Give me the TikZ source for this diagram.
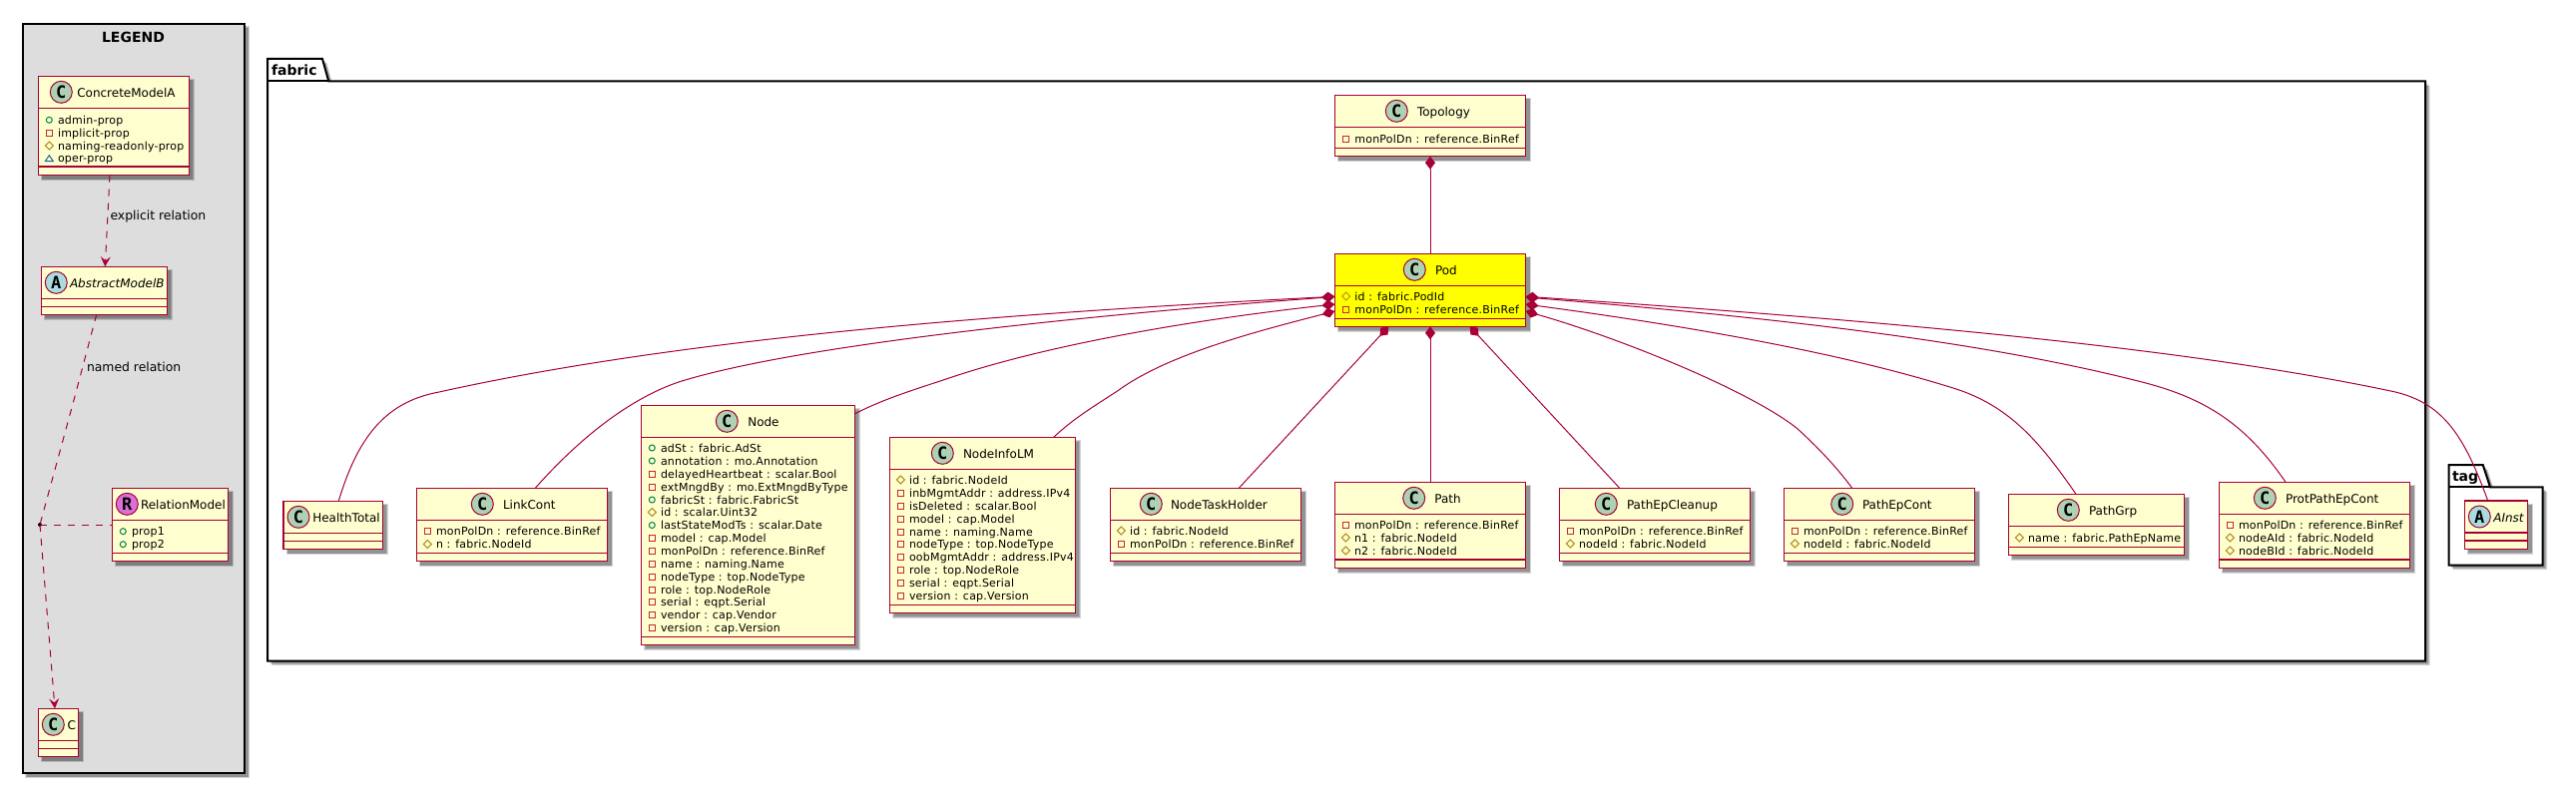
\documentclass[tikz,border=0pt]{standalone}
\usepackage{fontspec}
\setmainfont{DejaVu Sans}
\newfontfamily\spotfont{DejaVu Sans Mono}[BoldFont={DejaVu Sans Mono Bold}]
\usetikzlibrary{arrows.meta,calc}
\definecolor{plum}{HTML}{A80036}
\definecolor{classbg}{HTML}{FEFECE}
\definecolor{legendbg}{HTML}{DDDDDD}
\definecolor{spotC}{HTML}{ADD1B2}
\definecolor{spotA}{HTML}{A9DCDF}
\definecolor{spotR}{HTML}{DA70D6}
\definecolor{icpub}{HTML}{038048}
\definecolor{icpriv}{HTML}{C82930}
\definecolor{icprot}{HTML}{B38D22}
\definecolor{icpack}{HTML}{1963A0}
\definecolor{podbg}{HTML}{FFFF00}
\newcommand\fattr{\fontsize{11}{13}\selectfont\addfontfeature{LetterSpace=2}}
\newcommand\fname{\fontsize{12}{14}\selectfont}
\newcommand\flabel{\fontsize{12.4}{15}\selectfont}
\newcommand\fpack{\fontsize{14}{16}\selectfont\bfseries}
\newcount\tn
\tikzset{
  txt/.style={inner sep=0pt,outer sep=0pt,anchor=base west,text=black},
  classbox/.style={draw=plum,line width=1.5pt,inner sep=0pt,outer sep=0pt,anchor=north west},
  classline/.style={draw=plum,line width=1.5pt},
  spotc/.style={circle,draw=plum,line width=1pt,minimum size=22pt,inner sep=0pt,outer sep=0pt,text=black,font=\spotfont\fontsize{17}{17}\selectfont\bfseries},
  edge/.style={draw=plum,line width=1pt},
  dashedge/.style={draw=plum,line width=1pt,dash pattern=on 7pt off 7pt},
  comp/.style={edge,{Diamond[length=13pt,width=10pt,fill=plum,color=plum]}-},
  dep/.style={dashedge,-{Stealth[length=10pt,width=10pt,inset=4pt,fill=plum,color=plum,sep=0pt]}},
  pack/.style={draw=black,line width=2pt,fill=white,line join=miter},
  shd/.style={fill=black,opacity=.17,draw=none},
}
\newcommand\shadowrect[4]{%
  \path[shd] ({#1+2.5},{#2+2.5}) rectangle ({#3+5.5},{#4+5.5});
  \path[shd] ({#1+3.5},{#2+3.5}) rectangle ({#3+4.5},{#4+4.5});
  \path[shd] ({#1+4},{#2+4}) rectangle ({#3+4},{#4+4});}
% id x1 y1 x2 y2 line1 line2 fill
\newcommand\cls[8]{%
  \shadowrect{#2}{#3}{#4}{#5}
  \pgfmathsetlengthmacro\boxw{(#4-#2)*1pt}\pgfmathsetlengthmacro\boxh{(#5-#3)*1pt}
  \node[classbox,fill=#8,minimum width=\boxw,minimum height=\boxh] (#1) at (#2,#3) {};
  \draw[classline] (#2,#6) -- (#4,#6);
  \draw[classline] (#2,#7) -- (#4,#7);}
% cx cy letter color namex name
\newcommand\spot[6]{%
  \global\advance\tn by 1
  \node[spotc,fill=#4] (s\the\tn) at (#1,#2) {#3};
  \node[txt] (n\the\tn) at (#5,{#2+5.5}) {\fname #6};}
\newcommand\rowtext[3]{%
  \global\advance\tn by 1
  \node[txt] (r\the\tn) at ({#1+8.7},{#2+4}) {\fattr #3};}
\newcommand\pub[3]{\draw[icpub,line width=1pt] (#1,#2) circle (3); \rowtext{#1}{#2}{#3}}
\newcommand\pri[3]{\draw[icpriv,line width=1pt] ({#1-3},{#2-3}) rectangle ({#1+3},{#2+3}); \rowtext{#1}{#2}{#3}}
\newcommand\pro[3]{\draw[icprot,line width=1pt] ({#1-4},#2) -- (#1,{#2-4}) -- ({#1+4},#2) -- (#1,{#2+4}) -- cycle; \rowtext{#1}{#2}{#3}}
\newcommand\pak[3]{\draw[icpack,line width=1pt] ({#1-4},{#2+3}) -- (#1,{#2-3}) -- ({#1+4},{#2+3}) -- cycle; \rowtext{#1}{#2}{#3}}
\newcommand\fabricshape{(268,59) -- (323,59) -- (329.3,81.5) -- (2430,81.5) -- (2430,662.7) -- (268,662.7) -- cycle}
\newcommand\tagshape{(2453.5,466) -- (2487.7,466) -- (2495,488.3) -- (2547.7,488.3) -- (2547.7,566.7) -- (2453.5,566.7) -- cycle}
\begin{document}
\begin{tikzpicture}[x=1pt,y=-1pt]
\path[use as bounding box,fill=white] (0,0) rectangle (2581,800);
% legend
\shadowrect{22.5}{24}{244.5}{774.7}
\pgfmathsetlengthmacro\lw{222pt}\pgfmathsetlengthmacro\lh{750.7pt}
\node[draw=black,line width=2pt,fill=legendbg,minimum width=\lw,minimum height=\lh,anchor=north west,inner sep=0pt,outer sep=0pt] (legend) at (22.5,24) {};
\node[inner sep=0pt,anchor=base,text=black] (legendtitle) at (133.5,42.7) {\fontsize{14}{16}\selectfont\bfseries LEGEND};
% packages
\foreach \off in {2.5,3.5,4.5}{
\begin{scope}[shift={(\off,\off)}]
\path[shd] \fabricshape;
\path[shd] \tagshape;
\end{scope}}
\draw[pack] \fabricshape;
\draw[pack] (268,81.5) -- (329.3,81.5);
\node[txt] (fabriclabel) at (272,76) {\fpack fabric};
\draw[pack] \tagshape;
\draw[pack] (2453.5,488.3) -- (2495,488.3);
\node[txt] (taglabel) at (2457,482.7) {\fpack tag};
% legend classes
\cls{cma}{38.3}{76.3}{189.3}{175.7}{108.3}{167}{classbg}
\spot{61.3}{92.3}{C}{spotC}{77.3}{ConcreteModelA}
\pub{49.3}{120.3}{admin-prop}
\pri{49.3}{133}{implicit-prop}
\pro{49.3}{146}{naming-readonly-prop}
\pak{49.3}{158.7}{oper-prop}
\cls{amb}{41.3}{267.3}{167.3}{315.3}{299.3}{307.3}{classbg}
\spot{56.3}{283.3}{A}{spotA}{70}{\itshape AbstractModelB}
\cls{relm}{112.3}{489.3}{228.7}{562.7}{521.7}{554.3}{classbg}
\spot{127.3}{505.3}{R}{spotR}{141}{RelationModel}
\pub{123.3}{532.7}{prop1}
\pub{123.3}{545.7}{prop2}
\cls{cc}{38.3}{710.3}{78.7}{758.7}{742.3}{750.3}{classbg}
\spot{53.3}{726.3}{C}{spotC}{67.5}{C}
% fabric classes
\cls{topology}{1337.3}{95.3}{1528.7}{156.7}{127.3}{148.7}{classbg}
\spot{1399.3}{111.3}{C}{spotC}{1420}{Topology}
\pri{1348.7}{139}{monPolDn : reference.BinRef}
\cls{pod}{1337.3}{254.3}{1528.7}{327.3}{286.3}{319.3}{podbg}
\spot{1417.3}{270.3}{C}{spotC}{1438}{Pod}
\pro{1348.7}{297}{id : fabric.PodId}
\pri{1348.7}{310}{monPolDn : reference.BinRef}
\cls{health}{284}{502.3}{383.3}{550.7}{534.3}{542.3}{classbg}
\spot{299}{518.3}{C}{spotC}{313.3}{HealthTotal}
\cls{link}{417.3}{489.3}{608.7}{562.7}{521.7}{554.3}{classbg}
\spot{483.3}{505.3}{C}{spotC}{504}{LinkCont}
\pri{428.3}{532.3}{monPolDn : reference.BinRef}
\pro{428.3}{545.5}{n : fabric.NodeId}
\cls{node}{642.7}{406.7}{856.3}{646.3}{438.7}{638.3}{classbg}
\spot{728.3}{422.3}{C}{spotC}{749.3}{Node}
\pub{653.3}{449}{adSt : fabric.AdSt}
\pub{653.3}{462}{annotation : mo.Annotation}
\pri{653.3}{475}{delayedHeartbeat : scalar.Bool}
\pri{653.3}{488}{extMngdBy : mo.ExtMngdByType}
\pub{653.3}{501}{fabricSt : fabric.FabricSt}
\pro{653.3}{513.5}{id : scalar.Uint32}
\pub{653.3}{526.5}{lastStateModTs : scalar.Date}
\pri{653.3}{539.5}{model : cap.Model}
\pri{653.3}{552.5}{monPolDn : reference.BinRef}
\pri{653.3}{565}{name : naming.Name}
\pri{653.3}{578}{nodeType : top.NodeType}
\pri{653.3}{591}{role : top.NodeRole}
\pri{653.3}{603.5}{serial : eqpt.Serial}
\pri{653.3}{616.5}{vendor : cap.Vendor}
\pri{653.3}{629}{version : cap.Version}
\cls{info}{891.7}{438.7}{1077.3}{614.3}{470.3}{606.3}{classbg}
\spot{944.3}{454.3}{C}{spotC}{965}{NodeInfoLM}
\pro{902.3}{481}{id : fabric.NodeId}
\pri{902.3}{494}{inbMgmtAddr : address.IPv4}
\pri{902.3}{507}{isDeleted : scalar.Bool}
\pri{902.3}{520}{model : cap.Model}
\pri{902.3}{533}{name : naming.Name}
\pri{902.3}{545.5}{nodeType : top.NodeType}
\pri{902.3}{558.5}{oobMgmtAddr : address.IPv4}
\pri{902.3}{571.5}{role : top.NodeRole}
\pri{902.3}{584.5}{serial : eqpt.Serial}
\pri{902.3}{597}{version : cap.Version}
\cls{task}{1112.3}{489.3}{1303.7}{562.7}{521.3}{554.3}{classbg}
\spot{1153.3}{505.3}{C}{spotC}{1173}{NodeTaskHolder}
\pro{1123.3}{532}{id : fabric.NodeId}
\pri{1123.3}{545}{monPolDn : reference.BinRef}
\cls{path}{1337.3}{483.3}{1528.7}{569.3}{515.3}{561}{classbg}
\spot{1416.7}{499.3}{C}{spotC}{1437.3}{Path}
\pri{1348.3}{526.3}{monPolDn : reference.BinRef}
\pro{1348.3}{539}{n1 : fabric.NodeId}
\pro{1348.3}{552}{n2 : fabric.NodeId}
\cls{cleanup}{1562.3}{489.3}{1753.3}{562.7}{521.3}{554.3}{classbg}
\spot{1609.3}{505.3}{C}{spotC}{1630}{PathEpCleanup}
\pri{1573.3}{532}{monPolDn : reference.BinRef}
\pro{1573.3}{545}{nodeId : fabric.NodeId}
\cls{epcont}{1787.3}{489.3}{1978.7}{562.7}{521.3}{554.3}{classbg}
\spot{1845.7}{505.3}{C}{spotC}{1866}{PathEpCont}
\pri{1798.3}{532}{monPolDn : reference.BinRef}
\pro{1798.3}{545}{nodeId : fabric.NodeId}
\cls{grp}{2012.3}{495.3}{2188.7}{556.3}{527.3}{548.3}{classbg}
\spot{2072.3}{511.3}{C}{spotC}{2093}{PathGrp}
\pro{2023.3}{539}{name : fabric.PathEpName}
\cls{prot}{2223.3}{483.3}{2414.7}{569.3}{515.3}{561}{classbg}
\spot{2269.3}{499.3}{C}{spotC}{2290}{ProtPathEpCont}
\pri{2234.3}{526.3}{monPolDn : reference.BinRef}
\pro{2234.3}{539}{nodeAId : fabric.NodeId}
\pro{2234.3}{552}{nodeBId : fabric.NodeId}
\cls{ainst}{2469.3}{502}{2532.7}{550.3}{534}{542}{classbg}
\spot{2484.3}{518}{A}{spotA}{2498.3}{\itshape AInst}
% legend edges
\coordinate (mid) at (40,526);
\fill[black] (mid) circle (2);
\draw[dep] ([shift={(71.7,0)}]cma.south west) -- ([shift={(64,0)}]amb.north west);
\node[txt] (lab1) at (110.5,220) {\flabel explicit relation};
\draw[dashedge] ([shift={(55.4,0)}]amb.south west) -- (74.3,400) -- (mid);
\node[txt] (lab2) at (87,372) {\flabel named relation};
\draw[dashedge] (mid) -- (relm.west |- mid);
\draw[dep] (mid) -- ([shift={(16.7,0)}]cc.north west);
% fabric edges
\draw[comp] (topology.south) -- (pod.north);
\draw[comp] ([shift={(0,43)}]pod.north west) .. controls (1050,312) and (700,335) .. (440,393) .. controls (385,403) and (358,440) .. ([shift={(55.3,0)}]health.north west);
\draw[comp] ([shift={(0,43.2)}]pod.north west) .. controls (1100,315) and (800,345) .. (680,383) .. controls (630,400) and (580,440) .. ([shift={(119,0)}]link.north west);
\draw[comp] ([shift={(0,50.7)}]pod.north west) .. controls (1200,320) and (1050,345) .. (948,380) .. controls (915,391) and (885,400) .. ([shift={(0,8.3)}]node.north east);
\draw[comp] ([shift={(0,57.7)}]pod.north west) .. controls (1260,332) and (1170,355) .. (1120,391.7) .. controls (1095,408) and (1075,420) .. ([shift={(163.6,0)}]info.north west);
\draw[comp] ([shift={(54,0)}]pod.south west) -- ([shift={(129,0)}]task.north west);
\draw[comp] (pod.south) -- (path.north);
\draw[comp] ([shift={(135.4,0)}]pod.south west) -- ([shift={(60.4,0)}]cleanup.north west);
\draw[comp] ([shift={(0,57.7)}]pod.north east) .. controls (1620,338) and (1750,390) .. (1800,429) .. controls (1820,447) and (1840,468) .. ([shift={(68.4,0)}]epcont.north west);
\draw[comp] ([shift={(0,50.7)}]pod.north east) .. controls (1700,328) and (1850,355) .. (1960,390) .. controls (2015,408) and (2045,445) .. ([shift={(67.7,0)}]grp.north west);
\draw[comp] ([shift={(0,43.7)}]pod.north east) .. controls (1800,320) and (2000,345) .. (2150,384) .. controls (2210,400) and (2250,425) .. ([shift={(66.7,0)}]prot.north west);
\draw[comp] ([shift={(0,43)}]pod.north east) .. controls (1900,322) and (2200,350) .. (2400,393) .. controls (2450,405) and (2470,440) .. ([shift={(23.4,0)}]ainst.north west);
\end{tikzpicture}
\end{document}
